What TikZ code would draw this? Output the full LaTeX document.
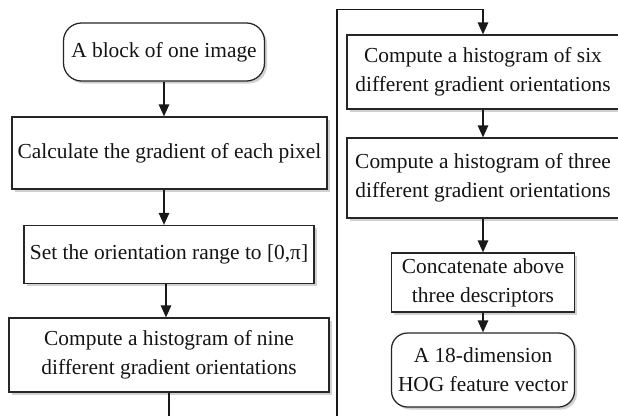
\documentclass[tikz,border=0pt]{standalone}
\usepackage{fontspec}
\setmainfont{Liberation Serif}
\usetikzlibrary{arrows.meta,shadows}
\begin{document}
\begin{tikzpicture}[x=1pt,y=-1pt,
  every node/.style={font=\fontsize{21.4pt}{29pt}\selectfont, text=black!92, align=center, inner sep=0pt},
  boxst/.style={draw=black!85, line width=1.25pt, fill=white, rectangle,
     drop shadow={shadow xshift=2.5pt, shadow yshift=-2.5pt, opacity=0.18, fill=black}},
  termst/.style={boxst, rounded corners=18pt},
  conn/.style={draw=black!90, line width=1.4pt},
  arr/.style={conn, -{Triangle[length=12pt,width=10.5pt]}}]
\useasboundingbox (0,0) rectangle (618,415);
\node[termst, minimum width=201pt, minimum height=58pt] (start) at (164,52) {A block of one image};
\node[boxst, minimum width=315pt, minimum height=72pt] (b2) at (169.5,153) {Calculate the gradient of each pixel};
\node[boxst, minimum width=290pt, minimum height=58pt] (b3) at (169,254.5) {Set the orientation range to [0,π]};
\node[boxst, minimum width=320pt, minimum height=74pt] (b4) at (169,355) {Compute a histogram of nine\\different gradient orientations};
\node[boxst, minimum width=272pt, minimum height=74pt] (b5) at (483,72) {Compute a histogram of six\\different gradient orientations};
\node[boxst, minimum width=272pt, minimum height=80pt] (b6) at (483,178) {Compute a histogram of three\\different gradient orientations};
\node[boxst, minimum width=183pt, minimum height=59pt] (b7) at (483,282.5) {Concatenate above\\three descriptors};
\node[termst, rounded corners=16pt, minimum width=183pt, minimum height=74pt] (b8) at (483,370) {A 18-dimension\\HOG feature vector};
\coordinate (lowL) at (169,416);
\coordinate (lowR) at (337,416);
\coordinate (topR) at (337,9.5);
\draw[arr] (start.south) -- (start.south |- b2.north);
\draw[arr] (start.south |- b2.south) -- (start.south |- b3.north);
\draw[arr] (b3.south -| 166,0) -- (b4.north -| 166,0);
\draw[conn] (b4.south) -- (lowL);
\draw[arr] (lowR) -- (topR) -| (b5.north);
\draw[arr] (b5.south) -- (b6.north);
\draw[arr] (b6.south) -- (b7.north);
\draw[arr] (b7.south) -- (b8.north);
\end{tikzpicture}
\end{document}
